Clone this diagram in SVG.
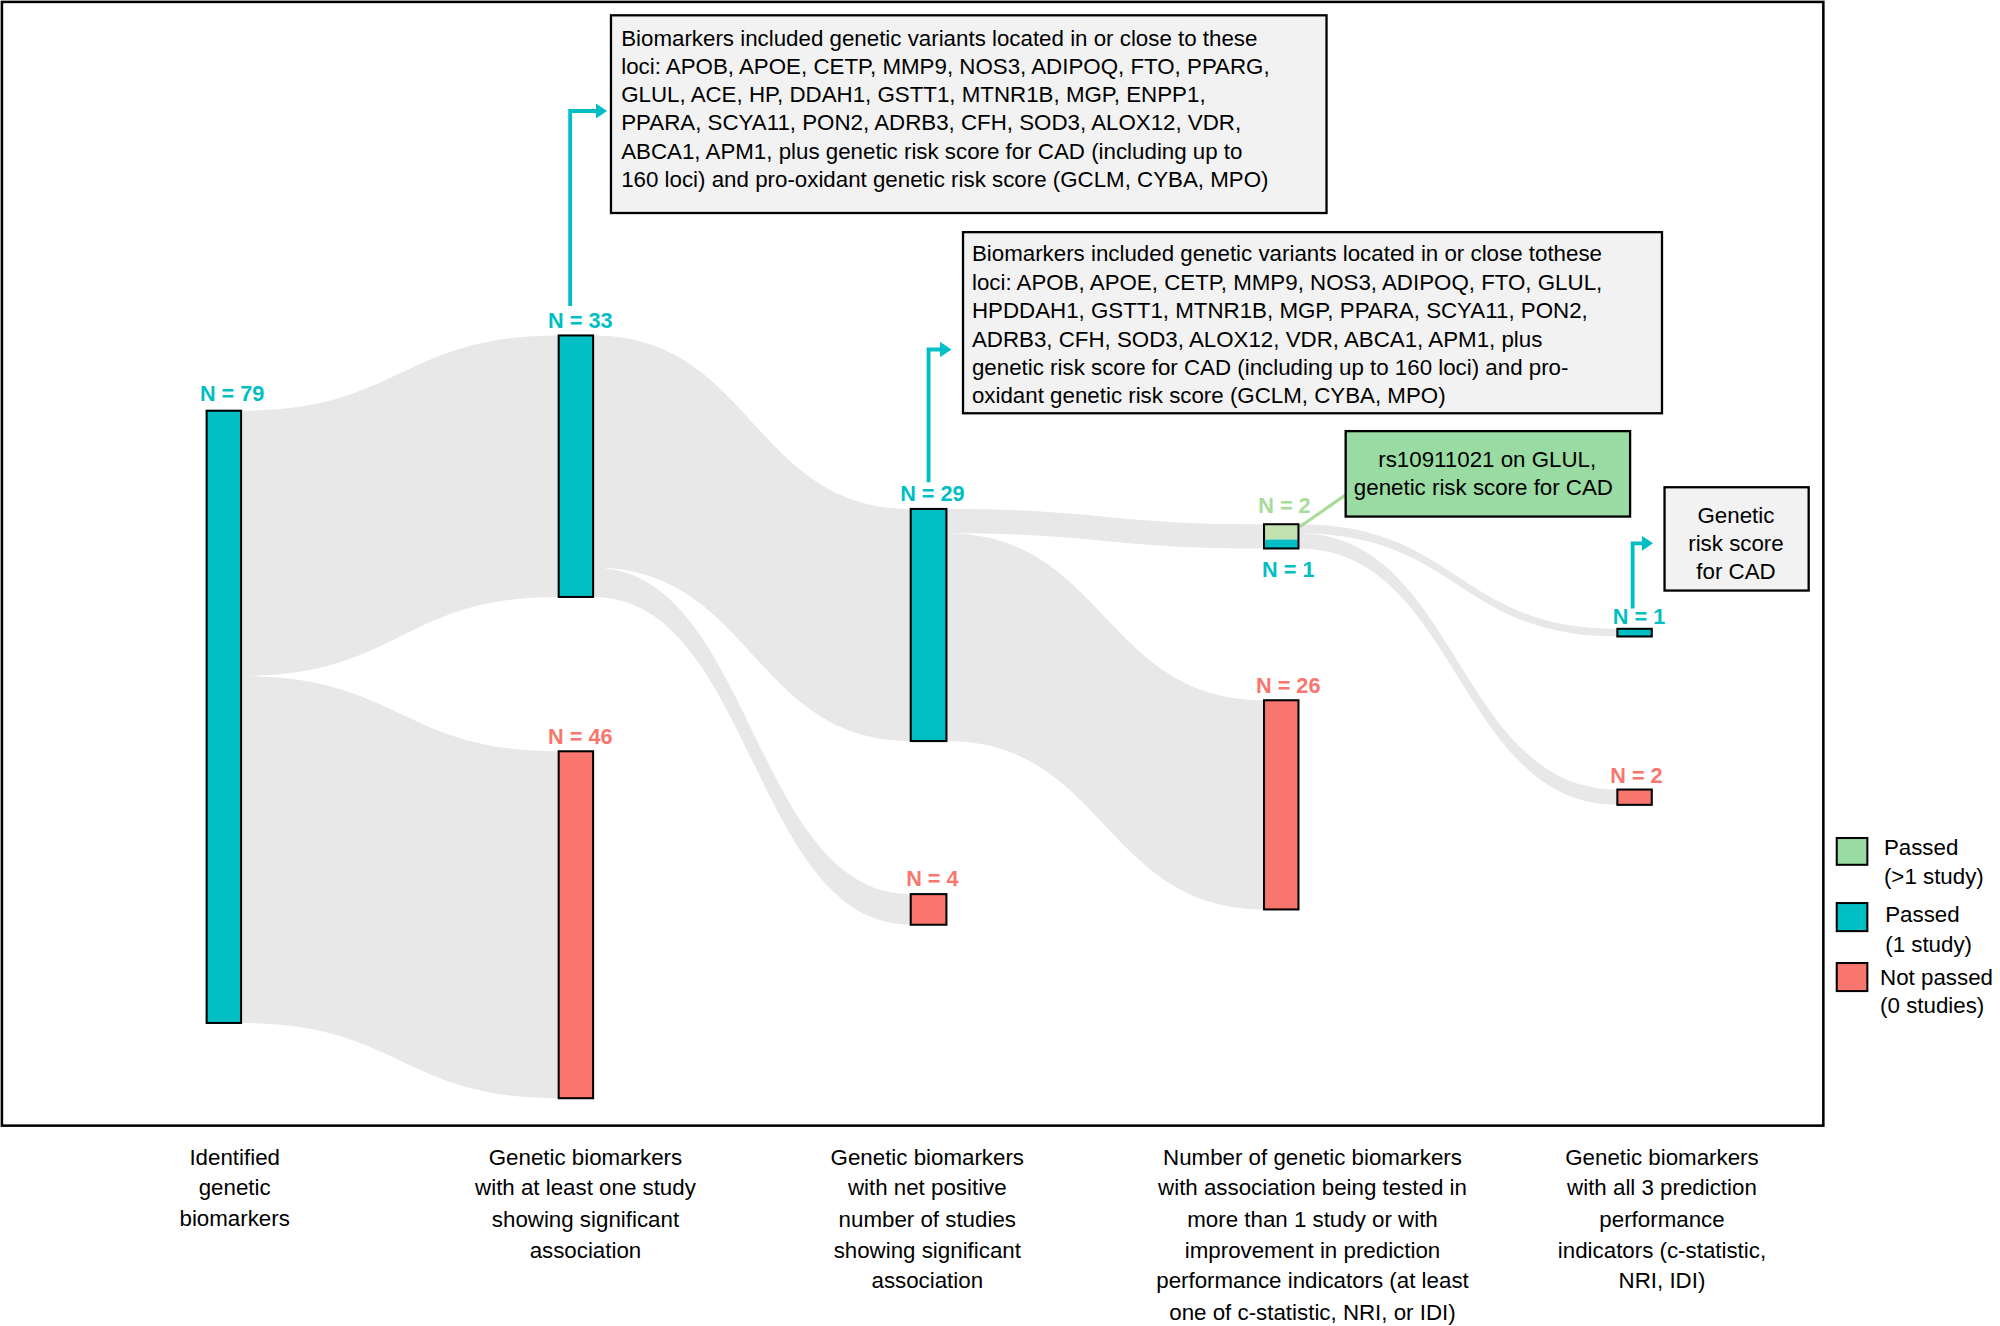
<svg xmlns="http://www.w3.org/2000/svg" width="2000" height="1326" viewBox="0 0 2000 1326">
<style>
.t{font-family:"Liberation Sans",Arial,sans-serif;font-size:17.5px;fill:#000}
.c{text-anchor:middle}
.n{font-family:"Liberation Sans",Arial,sans-serif;font-size:17px;font-weight:bold;text-anchor:middle}
.bar{stroke:#000;stroke-width:1.6}
.teal{fill:#00BFC4}.red{fill:#F8766D}.grn{fill:#C2E2B0}
.flow{fill:#E8E8E8}
.box{fill:#F2F2F2;stroke:#000;stroke-width:1.8}
.arr{fill:none;stroke:#00BFC4;stroke-width:3}
</style>
<defs><marker id="ah" markerWidth="4" markerHeight="4" refX="1" refY="2" orient="auto"><path d="M0,0L3,2L0,4z" fill="#00BFC4"/></marker></defs>
<rect width="2000" height="1326" fill="#fff"/>
<g transform="scale(1.27551)">
<rect x="1.5" y="1.5" width="1428" height="881" fill="none" stroke="#000" stroke-width="2"/>
<g id="connectors">
<path class="flow" d="M189,322 C314,322 314,263 438,263 L438,468 C314,468 314,530 189,530 Z"/>
<path class="flow" d="M189,530 C314,530 314,589 438,589 L438,861 C314,861 314,802 189,802 Z"/>
<path class="flow" d="M465,263 C590,263 590,399 714,399 L714,581 C590,581 590,445 465,445 Z"/>
<path class="flow" d="M465,445 C590,445 590,701 714,701 L714,725 C590,725 590,468 465,468 Z"/>
<path class="flow" d="M742,399 C866,399 866,411 991,411 L991,430 C866,430 866,418 742,418 Z"/>
<path class="flow" d="M742,418 C866,418 866,549 991,549 L991,713 C866,713 866,581 742,581 Z"/>
<path class="flow" d="M1018,411 C1143,411 1143,493 1268,493 L1268,499 C1143,499 1143,418 1018,418 Z"/>
<path class="flow" d="M1018,418 C1143,418 1143,619 1268,619 L1268,631 C1143,631 1143,430 1018,430 Z"/>
<path class="arr" d="M447,240 V87 H470" marker-end="url(#ah)"/>
<path class="arr" d="M728,378 V274 H740" marker-end="url(#ah)"/>
<path class="arr" d="M1280,477 V426 H1290" marker-end="url(#ah)"/>
<path d="M1019,413 L1055,388" stroke="#A8DC98" stroke-width="2.5" fill="none"/>
</g>
<g id="n79"><rect class="bar teal" x="162" y="322" width="27" height="480"/><text class="n" x="182" y="314" fill="#00BFC4">N = 79</text></g>
<g id="n33"><rect class="bar teal" x="438" y="263" width="27" height="205"/><text class="n" x="455" y="257" fill="#00BFC4">N = 33</text></g>
<g id="n46"><rect class="bar red" x="438" y="589" width="27" height="272"/><text class="n" x="455" y="583" fill="#F8766D">N = 46</text></g>
<g id="n29"><rect class="bar teal" x="714" y="399" width="28" height="182"/><text class="n" x="731" y="393" fill="#00BFC4">N = 29</text></g>
<g id="n4"><rect class="bar red" x="714" y="701" width="28" height="24"/><text class="n" x="731" y="695" fill="#F8766D">N = 4</text></g>
<g id="n2g"><rect class="grn" x="991" y="411" width="27" height="12"/><rect class="teal" x="991" y="423" width="27" height="7"/><rect x="991" y="411" width="27" height="19" fill="none" stroke="#000" stroke-width="1.6"/><text class="n" x="1007" y="402" fill="#A8DC98">N = 2</text><text class="n" x="1010" y="452" fill="#00BFC4">N = 1</text></g>
<g id="n26"><rect class="bar red" x="991" y="549" width="27" height="164"/><text class="n" x="1010" y="543" fill="#F8766D">N = 26</text></g>
<g id="n1f"><rect class="bar teal" x="1268" y="493" width="27" height="6"/><text class="n" x="1285" y="489" fill="#00BFC4">N = 1</text></g>
<g id="n2f"><rect class="bar red" x="1268" y="619" width="27" height="12"/><text class="n" x="1283" y="614" fill="#F8766D">N = 2</text></g>
<g id="box1"><rect class="box" x="479" y="12" width="561" height="155"/>
<text class="t" x="487" y="36">Biomarkers included genetic variants located in or close to these</text>
<text class="t" x="487" y="58">loci: APOB, APOE, CETP, MMP9, NOS3, ADIPOQ, FTO, PPARG,</text>
<text class="t" x="487" y="80">GLUL, ACE, HP, DDAH1, GSTT1, MTNR1B, MGP, ENPP1,</text>
<text class="t" x="487" y="102">PPARA, SCYA11, PON2, ADRB3, CFH, SOD3, ALOX12, VDR,</text>
<text class="t" x="487" y="125">ABCA1, APM1, plus genetic risk score for CAD (including up to</text>
<text class="t" x="487" y="147">160 loci) and pro-oxidant genetic risk score (GCLM, CYBA, MPO)</text></g>
<g id="box2"><rect class="box" x="755" y="182" width="548" height="142"/>
<text class="t" x="762" y="205">Biomarkers included genetic variants located in or close tothese</text>
<text class="t" x="762" y="227">loci: APOB, APOE, CETP, MMP9, NOS3, ADIPOQ, FTO, GLUL,</text>
<text class="t" x="762" y="249">HPDDAH1, GSTT1, MTNR1B, MGP, PPARA, SCYA11, PON2,</text>
<text class="t" x="762" y="272">ADRB3, CFH, SOD3, ALOX12, VDR, ABCA1, APM1, plus</text>
<text class="t" x="762" y="294">genetic risk score for CAD (including up to 160 loci) and pro-</text>
<text class="t" x="762" y="316">oxidant genetic risk score (GCLM, CYBA, MPO)</text></g>
<g id="boxg"><rect x="1055" y="338" width="223" height="67" fill="#99DBA2" stroke="#000" stroke-width="1.8"/>
<text class="t c" x="1166" y="366">rs10911021 on GLUL,</text>
<text class="t c" x="1163" y="388">genetic risk score for CAD</text></g>
<g id="box3"><rect class="box" x="1305" y="382" width="113" height="81"/>
<text class="t c" x="1361" y="410">Genetic</text><text class="t c" x="1361" y="432">risk score</text><text class="t c" x="1361" y="454">for CAD</text></g>
<g id="legend">
<rect x="1440" y="657" width="24" height="21" fill="#99DBA2" stroke="#000" stroke-width="1.6"/>
<text class="t" x="1477" y="670">Passed</text><text class="t" x="1477" y="693">(&gt;1 study)</text>
<rect class="bar teal" x="1440" y="708" width="24" height="22"/>
<text class="t" x="1478" y="723">Passed</text><text class="t" x="1478" y="746">(1 study)</text>
<rect class="bar red" x="1440" y="755" width="24" height="22"/>
<text class="t" x="1474" y="772">Not passed</text><text class="t" x="1474" y="794">(0 studies)</text>
</g>
<g id="labels" class="t c">
<text class="t c" x="184" y="913">Identified</text><text class="t c" x="184" y="937">genetic</text><text class="t c" x="184" y="961">biomarkers</text>
<text class="t c" x="459" y="913">Genetic biomarkers</text><text class="t c" x="459" y="937">with at least one study</text><text class="t c" x="459" y="962">showing significant</text><text class="t c" x="459" y="986">association</text>
<text class="t c" x="727" y="913">Genetic biomarkers</text><text class="t c" x="727" y="937">with net positive</text><text class="t c" x="727" y="962">number of studies</text><text class="t c" x="727" y="986">showing significant</text><text class="t c" x="727" y="1010">association</text>
<text class="t c" x="1029" y="913">Number of genetic biomarkers</text><text class="t c" x="1029" y="937">with association being tested in</text><text class="t c" x="1029" y="962">more than 1 study or with</text><text class="t c" x="1029" y="986">improvement in prediction</text><text class="t c" x="1029" y="1010">performance indicators (at least</text><text class="t c" x="1029" y="1035">one of c-statistic, NRI, or IDI)</text>
<text class="t c" x="1303" y="913">Genetic biomarkers</text><text class="t c" x="1303" y="937">with all 3 prediction</text><text class="t c" x="1303" y="962">performance</text><text class="t c" x="1303" y="986">indicators (c-statistic,</text><text class="t c" x="1303" y="1010">NRI, IDI)</text>
</g>
</g>
</svg>
